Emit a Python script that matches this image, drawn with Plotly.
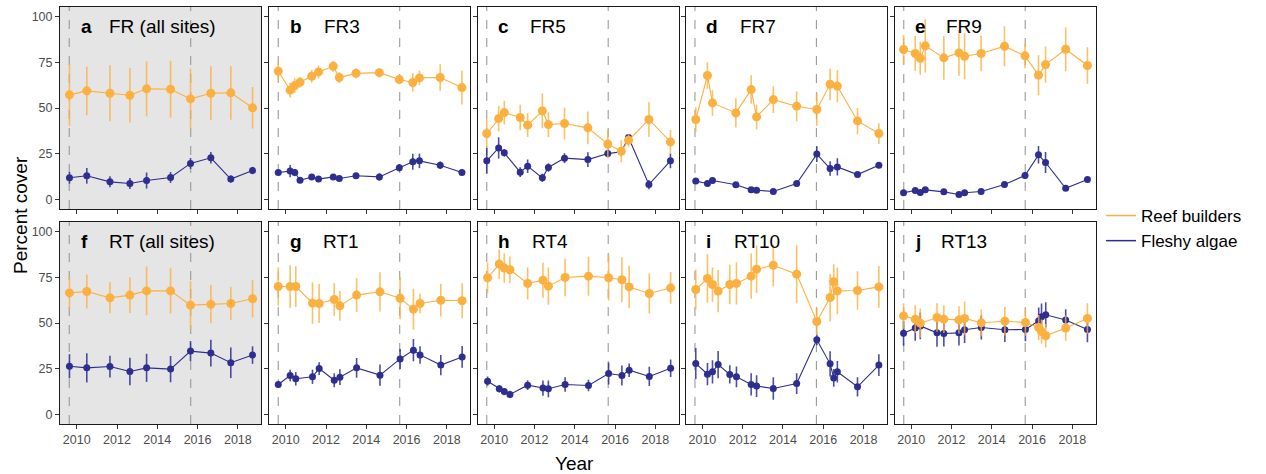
import plotly.graph_objects as go

# ---------------- data: mean percent cover and error per survey ----------------
site_letters = ["a", "b", "c", "d", "e", "f", "g", "h", "i", "j"]
site_titles = ["FR (all sites)", "FR3", "FR5", "FR7", "FR9",
               "RT (all sites)", "RT1", "RT4", "RT10", "RT13"]
year_ticks = [2010, 2012, 2014, 2016, 2018]
cover_ticks = [0, 25, 50, 75, 100]
event_years = [2009.63, 2015.66]

# FR (all sites)
fr_all_year = [2009.64, 2010.5, 2011.65, 2012.64, 2013.47, 2014.66, 2015.65, 2016.66, 2017.65, 2018.73]
fr_all_reef = [57.2, 59.4, 58.1, 57.0, 60.5, 60.3, 55.0, 58.1, 58.3, 50.1]
fr_all_reef_err = [17, 13.3, 15.3, 15, 15.1, 15.6, 16.7, 14.8, 14.7, 11.4]
fr_all_algae = [11.7, 12.8, 9.5, 8.6, 10.2, 11.9, 19.6, 22.7, 11.0, 15.7]
fr_all_algae_err = [3.2, 4.3, 3, 3, 4.4, 3, 3, 3.2, 2, 2]

# FR3
fr3_year = [2009.63, 2010.22, 2010.45, 2010.71, 2011.29, 2011.63, 2012.36, 2012.66, 2013.49, 2014.65,
            2015.64, 2016.31, 2016.64, 2017.67, 2018.75]
fr3_reef = [70.2, 59.8, 62.3, 64.1, 67.4, 69.8, 72.9, 66.7, 69.0, 69.4, 65.6, 64.0, 66.5, 66.7, 61.2]
fr3_reef_err = [5, 4, 4, 3, 3.5, 3.5, 3, 3, 2.8, 2.5, 2.5, 5, 4, 7.3, 9.3]
fr3_algae = [14.6, 15.4, 14.6, 10.4, 12.1, 11.0, 12.2, 11.3, 12.8, 12.2, 17.2, 20.5, 21.0, 18.6, 14.6]
fr3_algae_err = [1.5, 3.4, 2, 1.5, 1.5, 1.2, 1.5, 1.5, 1.5, 2, 2, 4.4, 4, 2, 1.5]

# FR5
fr5_year = [2009.63, 2010.22, 2010.5, 2011.29, 2011.66, 2012.39, 2012.69, 2013.49, 2014.65, 2015.64,
            2016.31, 2016.67, 2017.68, 2018.75]
fr5_reef = [36.0, 44.2, 47.5, 44.8, 40.6, 48.4, 40.9, 41.5, 39.1, 30.2, 26.3, 32.3, 43.7, 31.4]
fr5_reef_err = [8, 7, 6.5, 7, 6.5, 9.5, 6.8, 8.8, 9, 7.8, 6, 3.5, 9.5, 6.5]
fr5_algae = [21.0, 28.1, 25.4, 14.8, 18.1, 11.7, 17.4, 22.5, 21.7, 25.0, 26.0, 33.8, 8.0, 21.0]
fr5_algae_err = [7, 5.8, 2, 2.7, 3.7, 2.3, 2.3, 2.7, 4, 2, 2, 1.5, 2.5, 4]

# FR7
fr7_year = [2009.67, 2010.25, 2010.5, 2011.66, 2012.42, 2012.69, 2013.52, 2014.68, 2015.68, 2016.34,
            2016.7, 2017.7, 2018.76]
fr7_reef = [43.7, 67.8, 52.8, 47.3, 60.1, 45.1, 54.6, 51.0, 49.2, 63.0, 62.0, 42.9, 36.0]
fr7_reef_err = [6.7, 7.3, 7, 8, 7.8, 6.7, 7.3, 8.2, 9, 8.7, 8.9, 7.3, 5.7]
fr7_algae = [9.9, 8.6, 10.2, 7.9, 5.1, 4.9, 4.2, 8.6, 24.7, 16.8, 17.7, 13.5, 18.6]
fr7_algae_err = [1.5, 1.5, 1.5, 1.5, 1.2, 1.2, 1.2, 1.5, 4.3, 4, 4.7, 1.5, 1.5]

# FR9
fr9_year = [2009.62, 2010.2, 2010.45, 2010.7, 2011.62, 2012.37, 2012.65, 2013.47, 2014.63, 2015.65,
            2016.32, 2016.67, 2017.67, 2018.75]
fr9_reef = [82.1, 79.9, 77.3, 84.1, 77.5, 80.2, 78.4, 79.9, 83.9, 78.6, 68.0, 73.8, 82.2, 73.3]
fr9_reef_err = [8, 9.6, 9, 14.6, 12, 12.5, 12.6, 9.8, 11, 6.9, 11, 10, 12, 10]
fr9_algae = [3.5, 4.8, 3.7, 5.1, 4.0, 2.6, 3.5, 4.2, 8.0, 13.0, 24.3, 20.1, 6.0, 10.8]
fr9_algae_err = [1.5, 1.5, 1.5, 1.5, 1.5, 1.2, 1.2, 1.5, 1.5, 1.8, 4.8, 5.8, 1.5, 1.5]

# RT (all sites)
rt_all_year = [2009.64, 2010.5, 2011.65, 2012.64, 2013.47, 2014.66, 2015.65, 2016.66, 2017.65, 2018.73]
rt_all_reef = [66.5, 67.3, 63.8, 65.3, 67.6, 67.6, 59.8, 60.3, 60.7, 63.3]
rt_all_reef_err = [8.7, 9.3, 8.5, 9.8, 13.4, 12.4, 13.2, 10.5, 9.1, 10.2]
rt_all_algae = [26.3, 25.4, 26.1, 23.4, 25.4, 24.7, 34.6, 33.5, 28.2, 32.4]
rt_all_algae_err = [6.6, 8, 6, 7.6, 7.7, 7.2, 5.5, 7.3, 8.4, 4.8]

# RT1
rt1_year = [2009.63, 2010.22, 2010.5, 2011.33, 2011.66, 2012.41, 2012.69, 2013.52, 2014.68, 2015.68,
            2016.34, 2016.67, 2017.7, 2018.76]
rt1_reef = [70.0, 70.0, 70.0, 60.9, 60.7, 62.9, 59.4, 65.3, 67.1, 63.6, 57.6, 60.7, 62.5, 62.2]
rt1_reef_err = [10.5, 11.7, 11.2, 11.4, 10.7, 8.9, 8.2, 9.3, 10.8, 11.6, 11.2, 5.3, 9, 9.6]
rt1_algae = [16.3, 21.2, 19.4, 20.5, 25.0, 18.6, 20.3, 25.4, 21.4, 30.3, 35.1, 32.5, 26.9, 31.4]
rt1_algae_err = [1.5, 3.2, 3.7, 3.9, 3.5, 3.8, 4.3, 5.4, 5.8, 5.5, 6.1, 4.8, 5.5, 6]

# RT4
rt4_year = [2009.67, 2010.25, 2010.5, 2010.78, 2011.66, 2012.42, 2012.69, 2013.52, 2014.68, 2015.68,
            2016.34, 2016.7, 2017.7, 2018.76]
rt4_reef = [74.8, 82.3, 80.1, 79.2, 71.7, 73.5, 70.2, 75.0, 75.7, 74.8, 73.7, 69.8, 66.2, 69.3]
rt4_reef_err = [8.4, 8.2, 8, 7.3, 8.8, 9.6, 10.2, 10.3, 10.7, 12.5, 12.3, 11.6, 11, 8.7]
rt4_algae = [18.1, 13.9, 12.4, 10.8, 15.9, 14.3, 13.9, 16.3, 15.7, 22.3, 21.2, 24.1, 20.7, 25.2]
rt4_algae_err = [2.5, 2, 2, 2, 2.7, 4.2, 4.6, 4, 3.2, 6.1, 5.5, 3.7, 5.3, 4.8]

# RT10
rt10_year = [2009.67, 2010.25, 2010.5, 2010.78, 2011.36, 2011.69, 2012.42, 2012.69, 2013.52, 2014.68,
             2015.68, 2016.34, 2016.52, 2016.7, 2017.7, 2018.76]
rt10_reef = [68.4, 74.4, 71.1, 67.5, 71.1, 71.7, 75.7, 79.5, 81.7, 76.8, 50.8, 64.0, 72.6, 67.6, 67.8, 69.8]
rt10_reef_err = [11, 13.3, 9.4, 11.6, 10.8, 11.6, 12.4, 13, 11.4, 15.8, 7.5, 13, 9.6, 12.8, 10.6, 11.5]
rt10_algae = [27.8, 21.9, 23.2, 27.2, 21.8, 20.5, 16.3, 15.4, 14.1, 16.8, 40.8, 27.6, 19.9, 23.2, 15.0, 26.9]
rt10_algae_err = [8.5, 6.1, 6.4, 7.5, 5, 5.7, 6.1, 6, 6.2, 5.7, 3, 6.9, 4.8, 5.9, 5.3, 6]

# RT13
rt13_year = [2009.62, 2010.2, 2010.45, 2011.28, 2011.62, 2012.37, 2012.65, 2013.48, 2014.65, 2015.67,
             2016.33, 2016.47, 2016.68, 2017.67, 2018.75]
rt13_reef = [53.9, 52.1, 49.9, 53.0, 52.1, 51.7, 52.5, 50.1, 51.0, 50.3, 47.5, 45.3, 43.0, 47.2, 52.5]
rt13_reef_err = [7, 7.6, 8, 7.8, 7.6, 7.5, 9.3, 7.3, 7.8, 7.3, 6.9, 6.6, 6.4, 6.9, 8.4]
rt13_algae = [44.4, 47.2, 48.4, 44.6, 44.2, 44.6, 46.3, 47.5, 46.3, 46.4, 51.2, 53.4, 54.5, 51.6, 46.4]
rt13_algae_err = [6.9, 7, 7.3, 7.6, 7.1, 7, 7.3, 6.6, 6.7, 6.4, 7.3, 7.3, 6.9, 5.9, 6.9]

# ---------------- styling ----------------
W, H = 1266, 474
FONT = "Liberation Sans, Arial, sans-serif"
REEF_COLOR = "#FBB040"
REEF_ERR = "rgba(251,176,64,0.8)"
ALGAE_COLOR = "#2D2E8F"
ALGAE_ERR = "rgba(45,46,143,0.85)"
PANEL_GREY = "#E5E5E5"

panel_lefts = [60, 269, 477.5, 685.7, 894.5]   # px
panel_w = 201
row_tops = [7, 222]
panel_h = 202
title_offsets = [47, 53, 50, 52, 49.5, 47, 52, 52, 46.5, 44.5]

panels = [
    (fr_all_year, fr_all_reef, fr_all_reef_err, fr_all_algae, fr_all_algae_err),
    (fr3_year, fr3_reef, fr3_reef_err, fr3_algae, fr3_algae_err),
    (fr5_year, fr5_reef, fr5_reef_err, fr5_algae, fr5_algae_err),
    (fr7_year, fr7_reef, fr7_reef_err, fr7_algae, fr7_algae_err),
    (fr9_year, fr9_reef, fr9_reef_err, fr9_algae, fr9_algae_err),
    (rt_all_year, rt_all_reef, rt_all_reef_err, rt_all_algae, rt_all_algae_err),
    (rt1_year, rt1_reef, rt1_reef_err, rt1_algae, rt1_algae_err),
    (rt4_year, rt4_reef, rt4_reef_err, rt4_algae, rt4_algae_err),
    (rt10_year, rt10_reef, rt10_reef_err, rt10_algae, rt10_algae_err),
    (rt13_year, rt13_reef, rt13_reef_err, rt13_algae, rt13_algae_err),
]


def px_x(v):
    return v / W


def px_y(v):
    return 1 - v / H


fig = go.Figure()
layout_axes = {}
shapes = []
annotations = []

for k, (yr, reef, reef_err, algae, algae_err) in enumerate(panels):
    row, col = divmod(k, 5)
    n = k + 1
    xa = "x" if n == 1 else f"x{n}"
    ya = "y" if n == 1 else f"y{n}"
    left = panel_lefts[col]
    top = row_tops[row]

    fig.add_trace(go.Scatter(
        x=yr, y=algae, xaxis=xa, yaxis=ya, mode="lines+markers",
        line=dict(color=ALGAE_COLOR, width=1.1),
        marker=dict(color=ALGAE_COLOR, size=7),
        error_y=dict(type="data", array=algae_err, color=ALGAE_ERR, thickness=1.6, width=0),
        showlegend=False, hoverinfo="x+y"))
    fig.add_trace(go.Scatter(
        x=yr, y=reef, xaxis=xa, yaxis=ya, mode="lines+markers",
        line=dict(color=REEF_COLOR, width=1.1),
        marker=dict(color=REEF_COLOR, size=9),
        error_y=dict(type="data", array=reef_err, color=REEF_ERR, thickness=1.6, width=0),
        showlegend=False, hoverinfo="x+y"))

    axis_common = dict(showgrid=False, zeroline=False, showline=True, mirror=True,
                       linecolor="#1a1a1a", linewidth=1, ticks="outside", ticklen=4,
                       tickwidth=1, tickcolor="#333333",
                       tickfont=dict(family=FONT, size=12.5, color="#4D4D4D"))
    layout_axes["xaxis" if n == 1 else f"xaxis{n}"] = dict(
        axis_common, domain=[px_x(left), px_x(left + panel_w)], range=[2009.17, 2019.15],
        tickvals=year_ticks, showticklabels=(row == 1), anchor=ya)
    layout_axes["yaxis" if n == 1 else f"yaxis{n}"] = dict(
        axis_common, domain=[px_y(top + panel_h), px_y(top)], range=[-5.4, 105.4],
        tickvals=cover_ticks, showticklabels=(col == 0), anchor=xa)

    # grey background for the pooled panels
    if col == 0:
        shapes.append(dict(type="rect", xref=f"{xa} domain", yref=f"{ya} domain",
                           x0=0, x1=1, y0=0, y1=1, fillcolor=PANEL_GREY,
                           line=dict(width=0), layer="below"))
    for ev in event_years:
        shapes.append(dict(type="line", xref=xa, yref=f"{ya} domain", x0=ev, x1=ev,
                           y0=0, y1=1, line=dict(color="#9A9A9A", width=1.1, dash="dash"),
                           layer="below"))

    ty = top + 19
    annotations.append(dict(text=f"<b>{site_letters[k]}</b>", xref="paper", yref="paper",
                            x=px_x(left + 18.5), y=px_y(ty), xanchor="left", yanchor="middle",
                            showarrow=False, font=dict(family=FONT, size=19, color="black")))
    annotations.append(dict(text=site_titles[k], xref="paper", yref="paper",
                            x=px_x(left + title_offsets[k]), y=px_y(ty), xanchor="left",
                            yanchor="middle", showarrow=False,
                            font=dict(family=FONT, size=19, color="black")))

# axis titles
annotations.append(dict(text="Percent cover", xref="paper", yref="paper", x=px_x(20),
                        y=px_y(215), textangle=-90, showarrow=False, xanchor="center",
                        yanchor="middle", font=dict(family=FONT, size=19, color="black")))
annotations.append(dict(text="Year", xref="paper", yref="paper", x=px_x(574), y=px_y(463),
                        showarrow=False, xanchor="center", yanchor="middle",
                        font=dict(family=FONT, size=19, color="black")))

# legend entries
fig.add_trace(go.Scatter(x=[None], y=[None], mode="lines", name="Reef builders",
                         line=dict(color=REEF_COLOR, width=1.5)))
fig.add_trace(go.Scatter(x=[None], y=[None], mode="lines", name="Fleshy algae",
                         line=dict(color=ALGAE_COLOR, width=1.5)))

fig.update_layout(
    width=W, height=H, autosize=False,
    margin=dict(l=0, r=0, t=0, b=0),
    paper_bgcolor="white", plot_bgcolor="white",
    font=dict(family=FONT, color="black"),
    shapes=shapes, annotations=annotations,
    legend=dict(x=px_x(1101), y=px_y(198), xanchor="left", yanchor="top",
                bgcolor="rgba(0,0,0,0)", font=dict(family=FONT, size=17),
                tracegroupgap=0, itemwidth=30),
    **layout_axes,
)

fig.write_html("out.html")
